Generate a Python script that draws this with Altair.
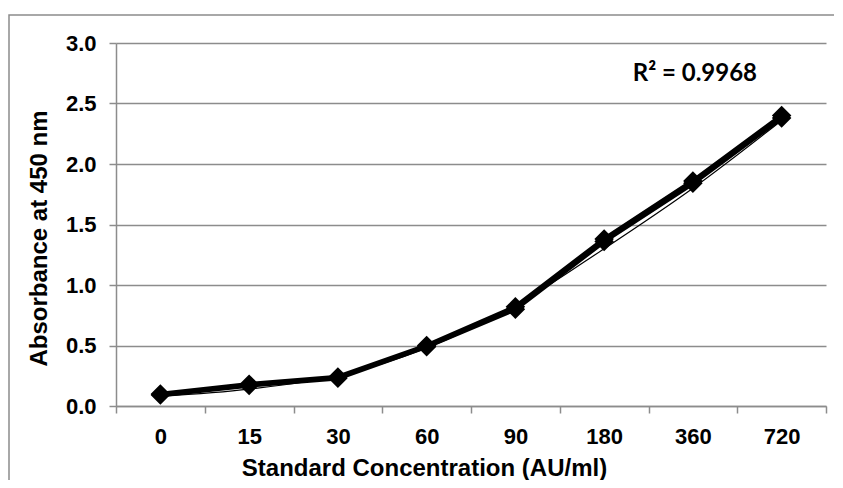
import altair as alt
import pandas as pd

categories = ["0", "15", "30", "60", "90", "180", "360", "720"]
rep1 = [0.10, 0.18, 0.24, 0.50, 0.82, 1.38, 1.86, 2.40]
rep2 = [0.09, 0.17, 0.23, 0.49, 0.80, 1.36, 1.84, 2.38]
trend = [0.08, 0.14, 0.25, 0.48, 0.83, 1.30, 1.80, 2.36]
r2_label = "R² = 0.9968"

rows = []
for c, a, b in zip(categories, rep1, rep2):
    rows.append({"conc": c, "abs": a, "rep": "r1"})
    rows.append({"conc": c, "abs": b, "rep": "r2"})
df = pd.DataFrame(rows)
df_trend = pd.DataFrame({"conc": categories, "abs": trend})
df_note = pd.DataFrame({"conc": ["360"], "abs": [2.69], "txt": [r2_label]})

GRAY = "#8c8c8c"
FONT = "Liberation Sans"

x = alt.X(
    "conc:N",
    sort=categories,
    scale=alt.Scale(paddingInner=0, paddingOuter=0),
    axis=alt.Axis(
        title="Standard Concentration (AU/ml)",
        titleFont=FONT, titleFontSize=24, titleFontWeight="bold", titleColor="black",
        titleX=308, titleY=69, titleBaseline="alphabetic", titleAnchor="start", titleAlign="center",
        labelFont=FONT, labelFontSize=22, labelFontWeight="bold", labelColor="black",
        labelAngle=0, labelBaseline="alphabetic", labelPadding=30,
        tickBand="extent", tickSize=7, tickColor=GRAY, tickWidth=1.5,
        domainColor=GRAY, domainWidth=1.5, grid=False,
    ),
)
y = alt.Y(
    "abs:Q",
    scale=alt.Scale(domain=[0, 3]),
    axis=alt.Axis(
        title="Absorbance at 450 nm",
        titleFont=FONT, titleFontSize=24, titleFontWeight="bold", titleColor="black",
        titleX=-77, titleY=195, titleAngle=270, titleBaseline="middle", titleAlign="center",
        labelFont=FONT, labelFontSize=22, labelFontWeight="bold", labelColor="black",
        labelPadding=13, format=".1f", values=[0, 0.5, 1.0, 1.5, 2.0, 2.5, 3.0],
        tickSize=7, tickColor=GRAY, tickWidth=1.5,
        domainColor=GRAY, domainWidth=1.5,
        grid=True, gridColor=GRAY, gridWidth=1.5,
    ),
)

lines = alt.Chart(df).mark_line(color="black", strokeWidth=4.5).encode(
    x=x, y=y, detail="rep:N"
)
pts = alt.Chart(df).mark_point(
    shape="diamond", filled=True, color="black", size=380, opacity=1
).encode(x=x, y=y)
tl = alt.Chart(df_trend).mark_line(color="black", strokeWidth=1.2, interpolate="monotone").encode(
    x=x, y=y
)
note = alt.Chart(df_note).mark_text(
    font="Lato", fontSize=24, fontWeight="bold", color="black", baseline="alphabetic",
    align="center", dx=2
).encode(x=alt.X("conc:N", sort=categories), y=alt.Y("abs:Q"), text="txt:N")

border = alt.Chart(df_note).mark_rect(fill=None, stroke=GRAY, strokeWidth=1.5).encode(
    x=alt.value(-107), x2=alt.value(900), y=alt.value(-28), y2=alt.value(600)
)

chart = alt.layer(border, lines, tl, pts, note).properties(
    width=710, height=363,
    autosize=alt.AutoSizeParams(type="none"),
    padding={"left": 108, "top": 35, "right": 8, "bottom": 74},
).configure_view(stroke=None)

chart.save("out.html", embed_options={"renderer": "svg", "actions": False})
